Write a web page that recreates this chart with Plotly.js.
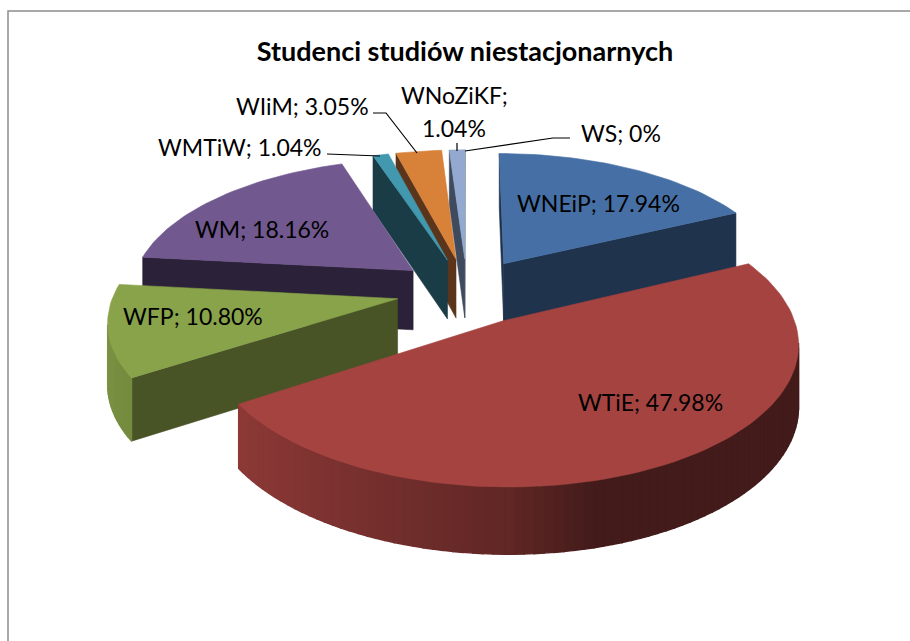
<!DOCTYPE html>
<html><head><meta charset="utf-8">
<script src="https://cdn.plot.ly/plotly-3.0.1.min.js"></script>
<style>html,body{margin:0;padding:0;background:#fff}#c{width:910px;height:641px}</style>
</head><body><div id="c"></div>
<script>
const categories = ['WNEiP','WTiE','WFP','WM','WMTiW','WIiM','WNoZiKF','WS'];
const shares = [17.94,47.98,10.80,18.16,1.04,3.05,1.04,0];
const shareText = ['17.94%','47.98%','10.80%','18.16%','1.04%','3.05%','1.04%','0%'];
const topColors = ['#4670a5','#a54340','#88a34a','#71588f','#4198af','#d78139','#93a9cf','#c0504d'];
const sideColors = ['#1f334d','#6a2b29','#485326','#2b2138','#1a3c47','#5b351b','#3e4a5e','#6a2b29'];

// 3-D pie projection: centre, scale, perspective, explosion, thickness
const CX=467, CY=291, AX=283, BY=133, P=0.142, EXPLODE=0.25, THICK=60;
function proj(u,v,h){const s=1/(1-P*v);return [CX+AX*u*s, CY+BY*v*s+h*THICK*Math.pow(s,0.6)];}
function hex(c){return [1,3,5].map(i=>parseInt(c.substr(i,2),16));}
function mul(c,f){return 'rgb('+hex(c).map(x=>Math.round(x*f)).join(',')+')';}
function arcShade(a){const s=Math.sin(a);return s<0?0.58+(-s)*0.32:Math.max(0.40,0.58-s*0.7);}

const total=shares.reduce((a,b)=>a+b,0);
let cum=0;
const slices=[];
categories.forEach((name,i)=>{
  const a0=cum/total*2*Math.PI; cum+=shares[i]; const a1=cum/total*2*Math.PI;
  if(shares[i]<=0) return;
  const m=(a0+a1)/2;
  slices.push({name,i,a0,a1,m,u0:EXPLODE*Math.sin(m),v0:-EXPLODE*Math.cos(m),depth:-(EXPLODE+0.5)*Math.cos(m)});
});
slices.sort((a,b)=>a.depth-b.depth);

const traces=[];
function poly(pts,color,name,w){
  traces.push({type:'scatter',mode:'lines',x:pts.map(p=>p[0]).concat(pts[0][0]),y:pts.map(p=>p[1]).concat(pts[0][1]),
    fill:'toself',fillcolor:color,line:{color:color,width:w},hoverinfo:'skip',name:name,showlegend:false});
}
function area(q){let s=0;for(let k=0;k<q.length;k++){const a=q[k],b=q[(k+1)%q.length];s+=a[0]*b[1]-b[0]*a[1];}return s/2;}
slices.forEach(sl=>{
  const n=Math.max(3,Math.ceil((sl.a1-sl.a0)/0.03));
  const rim=[];
  for(let k=0;k<=n;k++){const a=sl.a0+(sl.a1-sl.a0)*k/n;rim.push([sl.u0+Math.sin(a),sl.v0-Math.cos(a),a]);}
  const apex=[sl.u0,sl.v0];
  const face=(p,q,color,w)=>{
    const quad=[proj(p[0],p[1],0),proj(q[0],q[1],0),proj(q[0],q[1],1),proj(p[0],p[1],1)];
    if(area(quad)<0) poly(quad,color,sl.name,w);
  };
  const side=sideColors[sl.i], top=topColors[sl.i];
  face(apex,rim[0],side,0.6);
  face(rim[n],apex,side,0.6);
  for(let k=0;k<n;k++) face(rim[k],rim[k+1],mul(top,arcShade((rim[k][2]+rim[k+1][2])/2)),1.4);
  poly([proj(apex[0],apex[1],0)].concat(rim.map(r=>proj(r[0],r[1],0))),top,sl.name,0.6);
});

const labelFont={family:'Lato, sans-serif',size:23,color:'#000'};
function lab(i,x,y){return {text:categories[i]+'; '+shareText[i],x,y,xref:'x',yref:'y',showarrow:false,font:labelFont,xanchor:'center',yanchor:'middle'};}
const annotations=[
  lab(0,598,203),lab(1,650,402),lab(2,193,316),lab(3,262,229),lab(4,240,147),lab(5,302,106),lab(7,621,133),
  {text:categories[6]+';',x:454,y:95,xref:'x',yref:'y',showarrow:false,font:labelFont},
  {text:shareText[6],x:454,y:128,xref:'x',yref:'y',showarrow:false,font:labelFont}
];
const leader=d=>({type:'path',xref:'x',yref:'y',path:d,line:{color:'#000',width:1.2}});
const shapes=[
  leader('M327,154L380,156'),
  leader('M373,113L386,113L417,153'),
  leader('M457,143L457,151'),
  leader('M465,151L553,138L570,138'),
  {type:'path',xref:'x',yref:'y',path:'M8,641L8,11L910,11',line:{color:'#8c8c8c',width:1.5}}
];
Plotly.newPlot('c',traces,{
  width:910,height:641,margin:{l:0,r:0,t:0,b:0},paper_bgcolor:'#fff',plot_bgcolor:'#fff',showlegend:false,
  title:{text:'<b>Studenci studiów niestacjonarnych</b>',x:465/910,xanchor:'center',y:1-52/641,yanchor:'middle',font:{family:'Lato, sans-serif',size:27,color:'#000'}},
  xaxis:{range:[0,910],visible:false,fixedrange:true},
  yaxis:{range:[641,0],visible:false,fixedrange:true},
  annotations,shapes
},{displayModeBar:false,staticPlot:true});
</script></body></html>
